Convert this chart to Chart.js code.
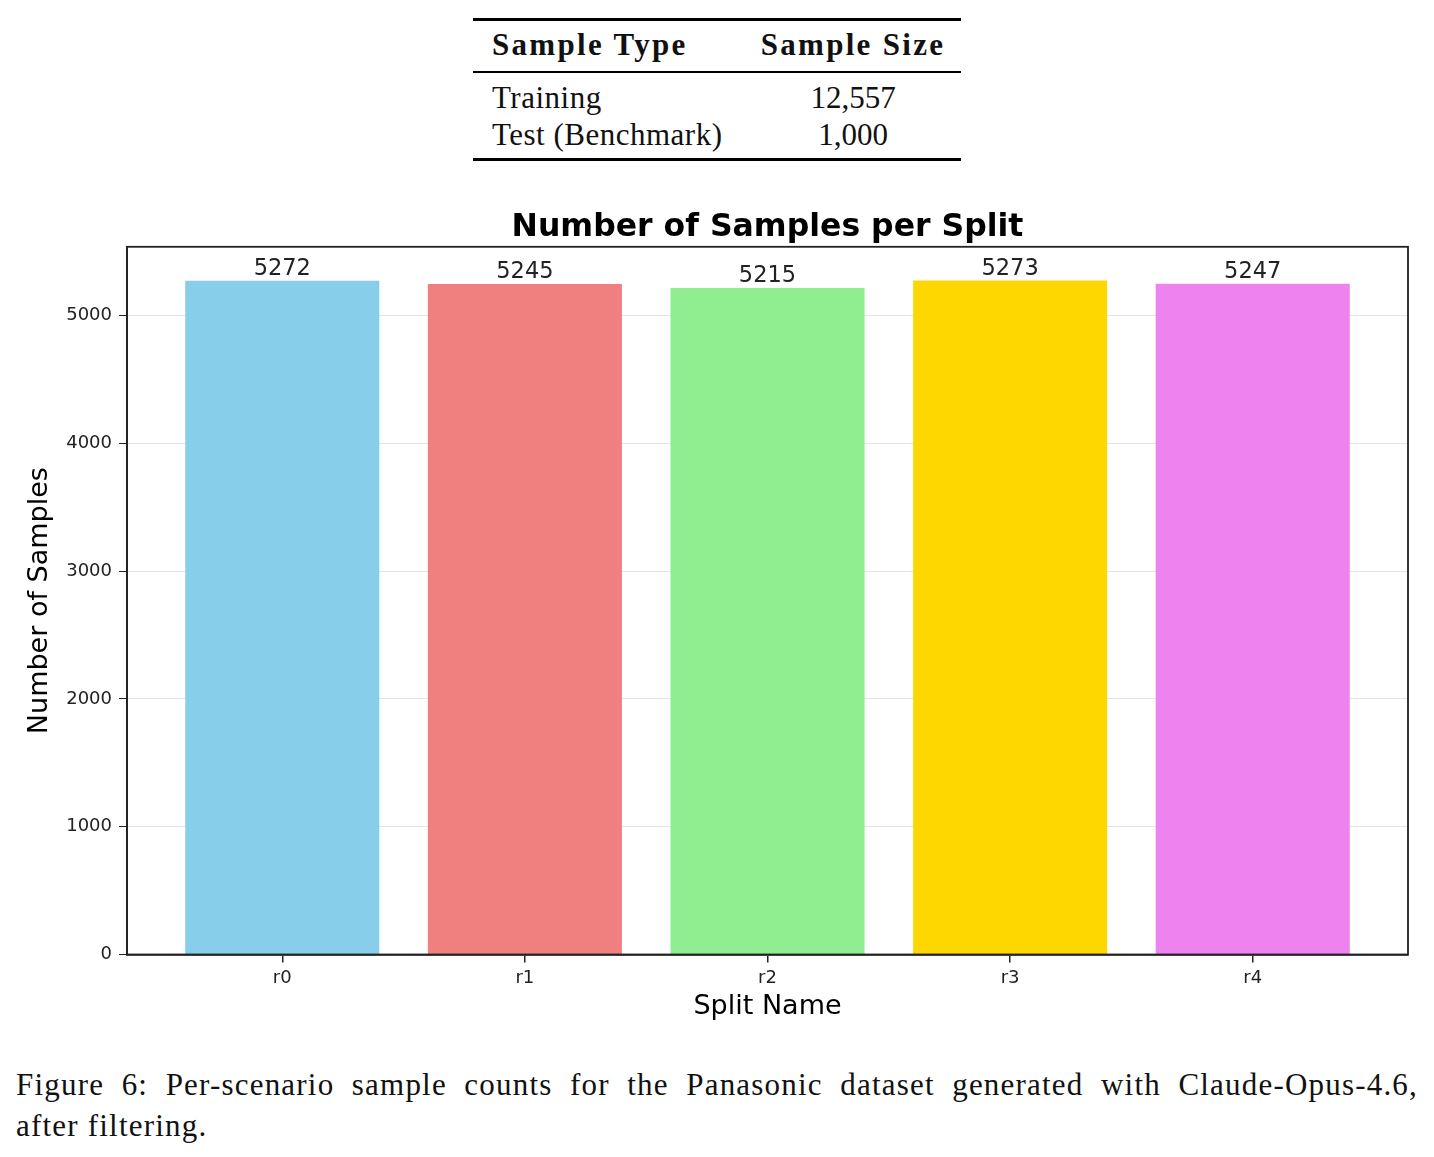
<!DOCTYPE html>
<html>
<head>
<meta charset="utf-8">
<script src="https://cdn.jsdelivr.net/npm/chart.js@4.4.1/dist/chart.umd.min.js"></script>
<style>
  body { margin: 0; background: #fff; }
  #page { position: relative; width: 1434px; height: 1157px; font-family: "Liberation Serif", serif; color: #111; }
  .rule { position: absolute; left: 473px; width: 488px; background: #000; }
  .cell { position: absolute; font-size: 31px; line-height: 31px; white-space: nowrap; }
  .head { font-weight: bold; letter-spacing: 2.3px; }
  .num { left: 753px; width: 200px; text-align: center; }
  #chartBox { position: absolute; left: 0; top: 190px; width: 1434px; height: 850px; }
  .cap { position: absolute; left: 16px; width: 1402px; font-size: 31px; line-height: 31px; letter-spacing: 1.2px; }
  #cap1 { text-align: justify; text-align-last: justify; }
</style>
</head>
<body>
<div id="page">
  <div class="rule" style="top:18px;height:3px"></div>
  <div class="cell head" style="left:492px;top:29px">Sample Type</div>
  <div class="cell head num" style="top:29px">Sample Size</div>
  <div class="rule" style="top:71px;height:2px"></div>
  <div id="tableRows"></div>
  <div class="rule" style="top:158px;height:3px"></div>

  <div id="chartBox"><canvas id="splitChart" width="1434" height="850"></canvas></div>

  <div class="cap" id="cap1" style="top:1069px">Figure 6: Per-scenario sample counts for the Panasonic dataset generated with Claude-Opus-4.6,</div>
  <div class="cap" style="top:1110px">after filtering.</div>
</div>
<script>
// table above the chart
const sampleTypes = ['Training', 'Test (Benchmark)'];
const sampleSizes = ['12,557', '1,000'];

// chart data
const splitNames = ['r0', 'r1', 'r2', 'r3', 'r4'];
const sampleCounts = [5272, 5245, 5215, 5273, 5247];
const barColors = ['#87CEEB', '#F08080', '#90EE90', '#FFD700', '#EE82EE'];
const yTickValues = [0, 1000, 2000, 3000, 4000, 5000];
const yMax = 5536.65;

const rowsDiv = document.getElementById('tableRows');
sampleTypes.forEach((t, i) => {
    const top = 82 + i * 37;
    rowsDiv.insertAdjacentHTML('beforeend',
        '<div class="cell" style="left:492px;top:' + top + 'px;letter-spacing:0.5px">' + t + '</div>' +
        '<div class="cell num" style="top:' + top + 'px">' + sampleSizes[i] + '</div>');
});

const tickFont = { family: 'DejaVu Sans', size: 18 };
const axisTitleFont = { family: 'DejaVu Sans', size: 27 };

// value above each bar
const barValueLabels = {
    id: 'barValueLabels',
    afterDatasetsDraw(chart) {
        const ctx = chart.ctx;
        const meta = chart.getDatasetMeta(0);
        ctx.save();
        ctx.font = '22.5px "DejaVu Sans"';
        ctx.fillStyle = '#222';
        ctx.textAlign = 'center';
        ctx.textBaseline = 'alphabetic';
        meta.data.forEach((bar, i) => {
            ctx.fillText(String(sampleCounts[i]), bar.x, bar.y - 6);
        });
        ctx.restore();
    }
};

// box round the plot area
const frameBox = {
    id: 'frameBox',
    afterDraw(chart) {
        const a = chart.chartArea;
        const ctx = chart.ctx;
        ctx.save();
        ctx.strokeStyle = '#222';
        ctx.lineWidth = 1.8;
        ctx.strokeRect(a.left, a.top, a.right - a.left, a.bottom - a.top);
        ctx.restore();
    }
};

const myChart = new Chart(document.getElementById('splitChart'), {
    type: 'bar',
    data: {
        datasets: [{
            data: splitNames.map((n, i) => ({ x: i, y: sampleCounts[i] })),
            backgroundColor: barColors,
            borderWidth: 0,
            categoryPercentage: 1,
            barPercentage: 0.8
        }]
    },
    options: {
        responsive: false,
        animation: false,
        layout: { padding: { left: 0, right: 26, top: 0, bottom: 0 } },
        plugins: {
            legend: { display: false },
            tooltip: { enabled: false },
            title: {
                display: true,
                text: 'Number of Samples per Split',
                fullSize: false,
                color: '#000',
                font: { family: 'DejaVu Sans', size: 31.5, weight: 'bold' },
                padding: { top: 19, bottom: 0 }
            }
        },
        scales: {
            x: {
                type: 'linear',
                min: -0.64,
                max: 4.64,
                offset: false,
                grid: { offset: false, drawOnChartArea: false, drawTicks: true, tickLength: 8, tickColor: '#222', lineWidth: 1.5 },
                border: { color: '#222', width: 1.8 },
                ticks: {
                    stepSize: 1, includeBounds: false, autoSkip: false, maxRotation: 0,
                    padding: 5, color: '#222', font: tickFont,
                    callback: v => splitNames[v] ?? ''
                },
                title: { display: true, text: 'Split Name', color: '#000', font: axisTitleFont, padding: { top: 0, bottom: 17 } },
                afterFit: s => { s.height = 85.5; }
            },
            y: {
                min: 0,
                max: yMax,
                z: 1,
                grid: { color: 'rgba(0,0,0,0.1)', lineWidth: 1, drawTicks: true, tickLength: 8, tickColor: '#222' },
                border: { color: '#222', width: 1.8 },
                ticks: {
                    padding: 7, color: '#222', font: tickFont,
                    callback: v => String(v)
                },
                afterBuildTicks: s => { s.ticks = yTickValues.map(v => ({ value: v })); },
                title: { display: true, text: 'Number of Samples', color: '#000', font: axisTitleFont, padding: { top: 24, bottom: 0 } },
                afterFit: s => { s.width = 127; }
            }
        }
    },
    plugins: [barValueLabels, frameBox]
});
</script>
</body>
</html>
